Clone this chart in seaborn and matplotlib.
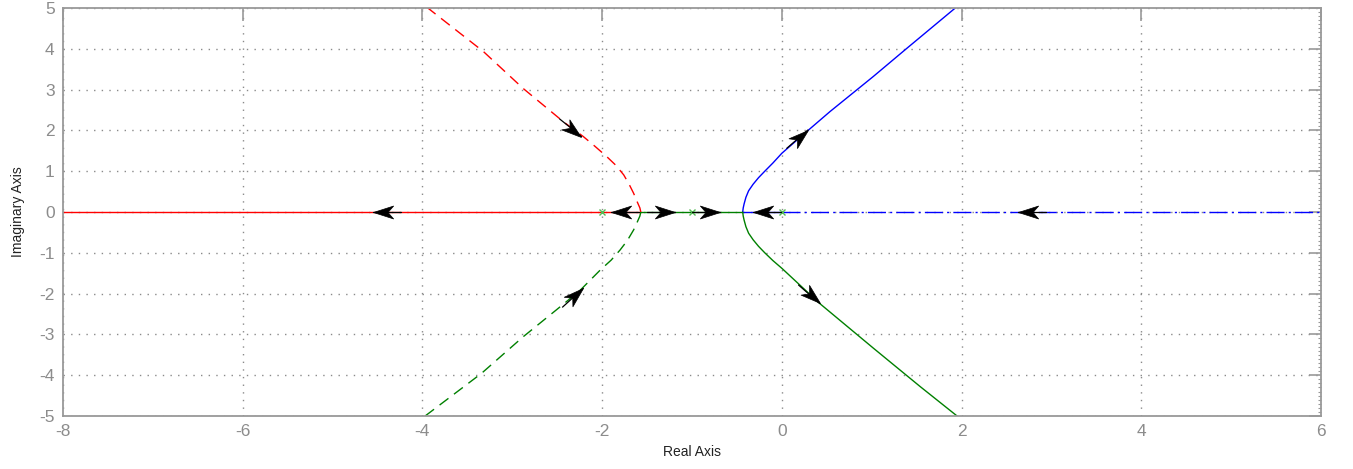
import numpy as np
import matplotlib
matplotlib.use("Agg")
import matplotlib.pyplot as plt
from matplotlib.markers import MarkerStyle
from matplotlib.path import Path
from matplotlib.ticker import MultipleLocator
from matplotlib.transforms import Affine2D
import seaborn as sns

# --- data --------------------------------------------------------------
# real-axis segments
red_axis_x = [-8.0, -1.57]
green_axis_x = [-1.57, -0.436]
blue_axis_x = [-0.436, 0.0]
blue_dashdot_x = [0.0, 6.0]

# complex branches
red_up_x = [-1.57, -1.58, -1.61, -1.65, -1.70, -1.76, -1.85, -1.95, -2.08, -2.21,
            -2.43, -2.88, -3.32, -3.94]
red_up_y = [0.0, 0.10, 0.25, 0.46, 0.68, 0.91, 1.15, 1.36, 1.61, 1.85,
            2.21, 3.03, 3.93, 5.0]

green_dn_x = [-1.57, -1.58, -1.61, -1.65, -1.72, -1.80, -1.90, -2.02, -2.25, -2.51,
              -2.88, -3.34, -3.97]
green_dn_y = [0.0, -0.10, -0.25, -0.44, -0.70, -0.93, -1.18, -1.42, -1.93, -2.40,
              -3.06, -3.95, -5.0]

blue_up_x = [-0.436, -0.43, -0.42, -0.40, -0.37, -0.32, -0.26, -0.19, -0.10, 0.0,
             0.276, 0.535, 1.017, 1.39, 1.93]
blue_up_y = [0.0, 0.10, 0.20, 0.36, 0.52, 0.68, 0.84, 1.00, 1.20, 1.44,
             1.97, 2.46, 3.32, 4.01, 5.0]

green_dr_x = [-0.436, -0.43, -0.42, -0.40, -0.37, -0.32, -0.26, -0.19, -0.10, 0.0,
              0.42, 1.02, 1.54, 1.95]
green_dr_y = [0.0, -0.10, -0.20, -0.36, -0.52, -0.68, -0.84, -1.00, -1.19, -1.38,
              -2.24, -3.34, -4.28, -5.0]

# open-loop poles
poles_x = [-2.0, -1.0, 0.0]
poles_y = [0.0, 0.0, 0.0]

# direction arrows (tip position + direction)
arrow_x = [-4.55, -1.90, -1.19, -0.69, -0.32, 2.63, -2.23, -2.21, 0.29, 0.42]
arrow_y = [0.0, 0.0, 0.0, 0.0, 0.0, 0.0, 1.85, -1.87, 2.01, -2.24]
arrow_dx = [-1, -1, 1, 1, -1, -1, 0.48, 0.49, 0.535, 1.02]
arrow_dy = [0, 0, 0, 0, 0, 0, -0.85, 0.98, 1.02, -1.96]

RED = "#ff0000"
GREEN = "#008000"
BLUE = "#0000ff"
GRAY = "#8c8c8c"

sns.set_theme(style="white")
plt.rcParams["font.family"] = ["Liberation Sans", "DejaVu Sans"]
plt.rcParams["axes.unicode_minus"] = False

fig = plt.figure(figsize=(13.53, 4.69), dpi=100)
ax = fig.add_axes([63 / 1353, 1 - 416 / 469, (1321 - 63) / 1353, (416 - 8) / 469])

ax.set_xlim(-8, 6)
ax.set_ylim(-5, 5)

# grid
ax.set_xticks(np.arange(-8, 7, 2))
ax.set_yticks(np.arange(-5, 6, 1))
ax.grid(True, linestyle=(0, (1, 4.5)), color="#8a8a8a", linewidth=1.0)

lw = 1.0
def branch(x, y, color, ls):
    sns.lineplot(x=x, y=y, sort=False, estimator=None, color=color,
                 linewidth=lw, linestyle=ls, ax=ax)

branch(red_axis_x, [0, 0], RED, "-")
branch(green_axis_x, [0, 0], GREEN, "-")
branch(blue_axis_x, [0, 0], BLUE, "-")
branch(blue_dashdot_x, [0, 0], BLUE, (0, (13, 3, 1.5, 3)))
branch(red_up_x, red_up_y, RED, (0, (8, 5)))
branch(green_dn_x, green_dn_y, GREEN, (0, (8, 5)))
branch(blue_up_x, blue_up_y, BLUE, "-")
branch(green_dr_x, green_dr_y, GREEN, "-")

ax.plot(poles_x, poles_y, linestyle="none", marker="x", color="#55bb55",
        markersize=5, markeredgewidth=1.0, zorder=4)

# arrowheads (stealth shape, tip at origin)
head = Path([(0, 0), (-1, 0.32), (-0.72, 0), (-1, -0.32), (0, 0)],
            [Path.MOVETO, Path.LINETO, Path.LINETO, Path.LINETO, Path.CLOSEPOLY])
for x, y, dx, dy in zip(arrow_x, arrow_y, arrow_dx, arrow_dy):
    p0 = ax.transData.transform((x, y))
    p1 = ax.transData.transform((x + dx * 0.01, y + dy * 0.01))
    ang = np.degrees(np.arctan2(p1[1] - p0[1], p1[0] - p0[0]))
    # short black shaft behind the head
    back = ax.transData.inverted().transform(
        p0 - 28 * (p1 - p0) / np.hypot(*(p1 - p0)))
    ax.plot([back[0], x], [back[1], y], color="black", linewidth=0.9, zorder=5)
    m = MarkerStyle(head, transform=Affine2D().rotate_deg(ang))
    ax.plot([x], [y], marker=m, markersize=29, color="black",
            markeredgewidth=0.5, linestyle="none", zorder=6)

# frame and ticks
for s in ax.spines.values():
    s.set_color("#999999")
    s.set_linewidth(1.3)
ax.tick_params(which="major", direction="in", length=9, width=1.2, color="#999999",
               top=True, right=True, labelsize=12.5, labelcolor=GRAY, pad=6)
ax.yaxis.set_minor_locator(MultipleLocator(0.1))
ax.tick_params(which="minor", axis="y", direction="in", length=2, width=0.8,
               color="#999999", left=False, right=True)
ax.tick_params(which="minor", axis="x", bottom=False, top=False)

ax.set_xlabel("Real Axis", fontsize=10, color="#222222", labelpad=4)
ax.set_ylabel("Imaginary Axis", fontsize=10, color="#222222", labelpad=10)

fig.savefig("out.png", dpi=100)
